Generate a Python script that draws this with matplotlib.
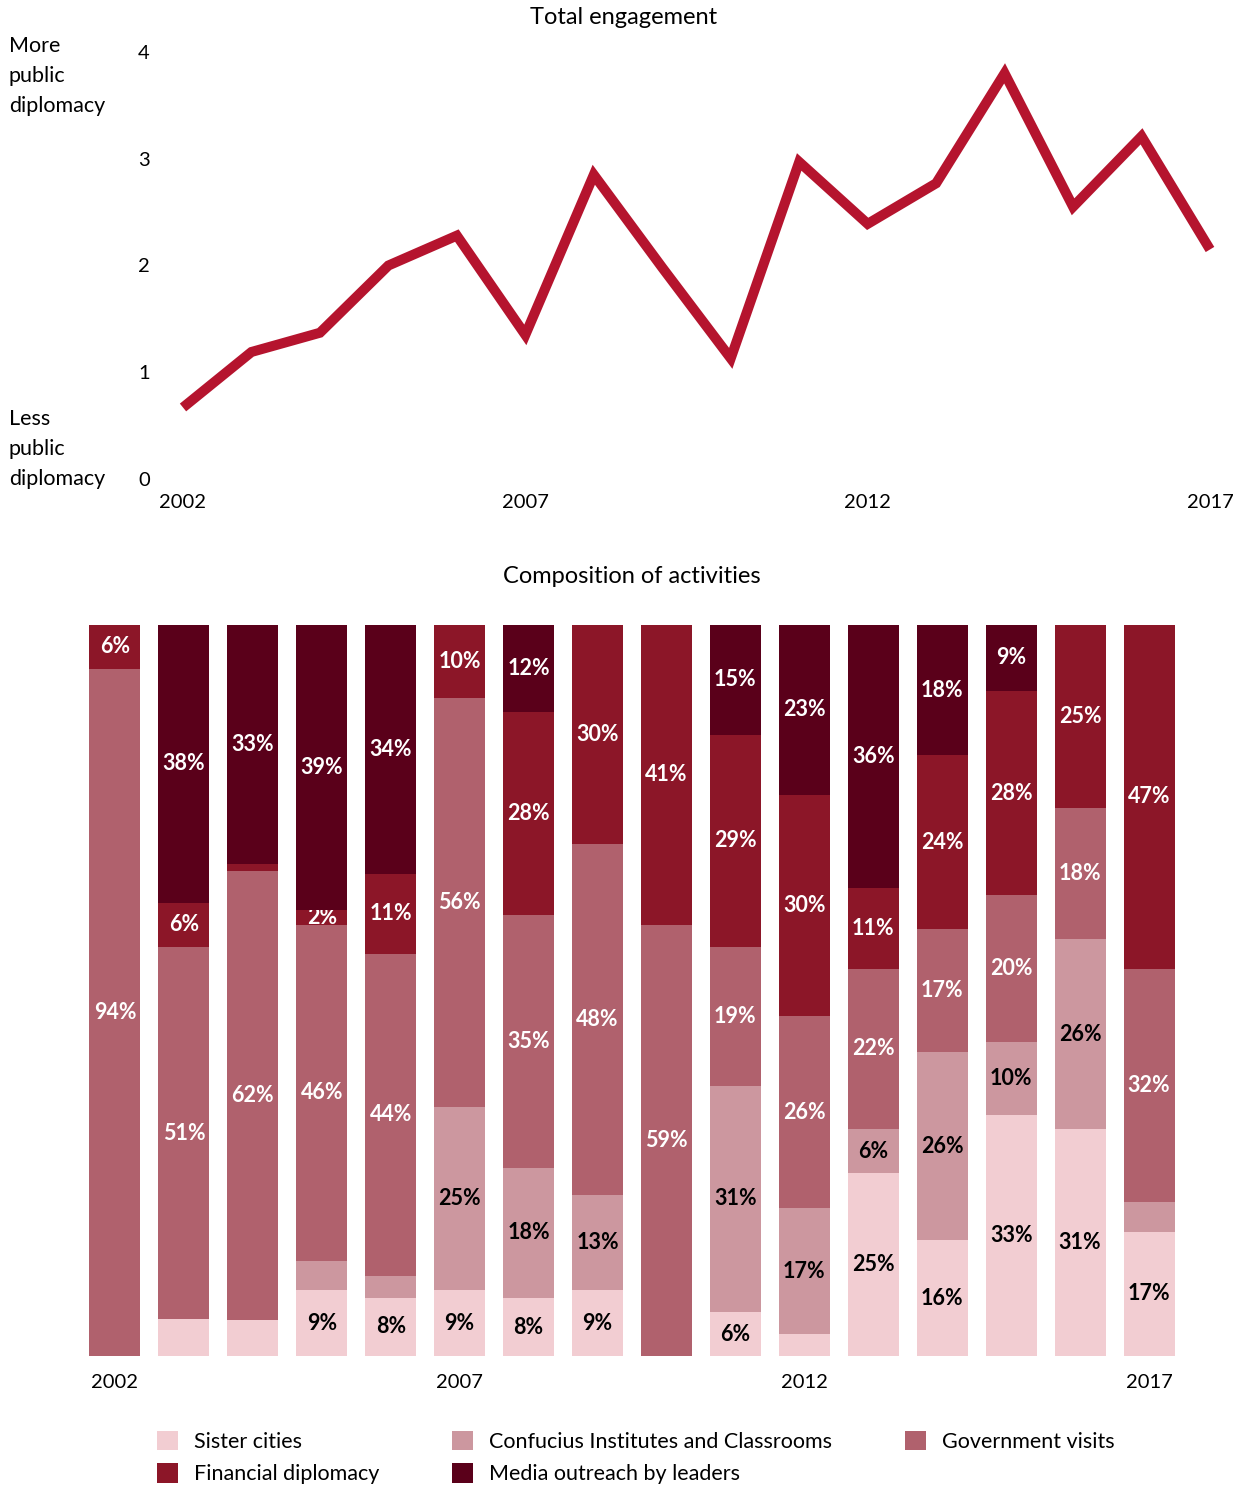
import numpy as np
import matplotlib
matplotlib.use("Agg")
from matplotlib import pyplot as plt
from matplotlib.patches import Patch

plt.rcParams['font.family'] = ['Lato', 'DejaVu Sans']

# ---- data ----
years = list(range(2002, 2018))
engagement = [0.67, 1.19, 1.37, 2.0, 2.28, 1.35, 2.85, 1.98,
              1.13, 2.97, 2.39, 2.77, 3.80, 2.55, 3.21, 2.15]

# composition of activities, percent (bottom to top)
sister = [0, 5, 5, 9, 8, 9, 8, 9, 0, 6, 3, 25, 16, 33, 31, 17]
confucius = [0, 0, 0, 4, 3, 25, 18, 13, 0, 31, 17, 6, 26, 10, 26, 4]
government = [94, 51, 62, 46, 44, 56, 35, 48, 59, 19, 26, 22, 17, 20, 18, 32]
financial = [6, 6, 1, 2, 11, 10, 28, 30, 41, 29, 30, 11, 24, 28, 25, 47]
media = [0, 38, 33, 39, 34, 0, 12, 0, 0, 15, 23, 36, 18, 9, 0, 0]

series_names = ['Sister cities', 'Confucius Institutes and Classrooms',
                'Government visits', 'Financial diplomacy',
                'Media outreach by leaders']
series_vals = [sister, confucius, government, financial, media]
colors = ['#f2cdd2', '#cc979f', '#b0616d', '#8c1628', '#5a001a']
label_colors = ['black', 'black', 'white', 'white', 'white']
tick_years = [2002, 2007, 2012, 2017]

W, H = 1249, 1488
fig = plt.figure(figsize=(W / 100, H / 100), dpi=100)

def px(x, y):
    return x / W, 1 - y / H

# ---- top: total engagement line ----
ax1 = fig.add_axes([183 / W, (H - 479) / H, (1210 - 183) / W, (479 - 52) / H])
ax1.plot(years, engagement, color='#b5142e', lw=7.2, clip_on=False,
         solid_joinstyle='miter', solid_capstyle='butt')
ax1.set_xlim(2002, 2017)
ax1.set_ylim(0, 4)
ax1.set_yticks([0, 1, 2, 3, 4])
ax1.set_xticks(tick_years)
ax1.tick_params(axis='y', length=0, pad=24, labelsize=14.5)
ax1.tick_params(axis='x', length=0, pad=11, labelsize=14.5)
for s in ax1.spines.values():
    s.set_visible(False)
ax1.patch.set_alpha(0)

fig.text(*px(624, 17), 'Total engagement', ha='center', va='center', fontsize=17)
fig.text(*px(9, 36), 'More\npublic\ndiplomacy', ha='left', va='top',
         fontsize=15.5, linespacing=1.62)
fig.text(*px(9, 409), 'Less\npublic\ndiplomacy', ha='left', va='top',
         fontsize=15.5, linespacing=1.62)

# ---- bottom: composition of activities ----
ax2 = fig.add_axes([80.5 / W, (H - 1356) / H, 1103 / W, 731 / H])
totals = np.sum(np.array(series_vals), axis=0)
bottom = np.zeros(len(years))
for i, vals in enumerate(series_vals):
    v = np.array(vals, dtype=float)
    h = v / totals * 100
    ax2.bar(years, h, bottom=bottom, width=0.74, color=colors[i],
            zorder=2 + 2 * i)
    for x, b, hh, raw in zip(years, bottom, h, vals):
        if raw >= 6 or (raw >= 2 and i == 3 and x == 2005):
            ax2.text(x, b + hh / 2, f'{raw}%', ha='center', va='center',
                     color=label_colors[i], fontsize=15.5, fontweight='bold',
                     zorder=3 + 2 * i)
    bottom += h

ax2.set_xlim(2001.5, 2017.5)
ax2.set_ylim(0, 100)
ax2.set_yticks([])
ax2.set_xticks(tick_years)
ax2.tick_params(axis='x', length=0, pad=13, labelsize=14.5)
for s in ax2.spines.values():
    s.set_visible(False)

fig.text(*px(632, 577), 'Composition of activities', ha='center', va='center',
         fontsize=17)

# legend: row 1 sister/confucius/government, row 2 financial/media
order = [0, 3, 1, 4, 2]
handles = [Patch(facecolor=colors[i], edgecolor='none') for i in order]
labels = [series_names[i] for i in order]
fig.legend(handles, labels, ncol=3, loc='upper left',
           bbox_to_anchor=px(148, 1422), frameon=False, fontsize=15.5,
           handlelength=1.0, handleheight=1.0, handletextpad=0.75,
           columnspacing=3.35, labelspacing=0.55, borderaxespad=0)

fig.savefig('out.png', dpi=100)
